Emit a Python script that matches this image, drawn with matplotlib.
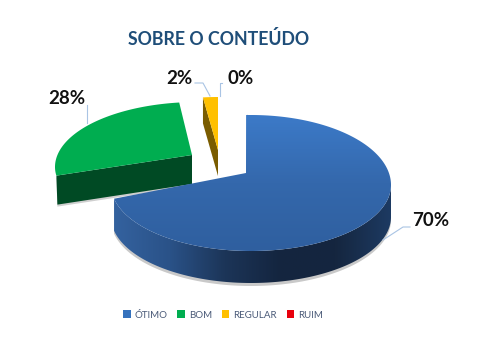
import numpy as np
import matplotlib
matplotlib.use("Agg")
import matplotlib.pyplot as plt
from matplotlib.colors import LinearSegmentedColormap
from matplotlib.patches import Patch, Polygon

# data
categories = ["ÓTIMO", "BOM", "REGULAR", "RUIM"]
values = [70, 28, 2, 0]
labels = ["70%", "28%", "2%", "0%"]
colors = ["#3572bd", "#00ad50", "#ffc000", "#e8000d"]

plt.rcParams["font.family"] = ["Lato", "DejaVu Sans"]

# fake 3d pie, everything here is in pixels of the picture
apex = [(246, 173), (192, 155), (218, 150)]
center = [(251, 185), (197, 167), (218, 150)]
rx = [140, 142, 120]
ry_back = [70, 65, 53]
ry_front = [66, 62, 53]
depth = [32, 29, 26]
# perspective pushes the cut lines away a little, degrees at start and end of slice
nudge = [(-2, 6), (10, 0), (0, 0)]


def rim(i, t0, t1, n=300):
    # points of the slice edge, t is the angle clockwise from 12 o'clock
    t = np.radians(np.linspace(t0, t1, n))
    s, c = np.sin(t), np.cos(t)
    k = np.where(c >= 0, ry_back[i], ry_front[i])
    return center[i][0] + rx[i] * s, center[i][1] - k * c


def gradient(ax, poly, cmap, horizontal, zorder):
    xs, ys = poly[:, 0], poly[:, 1]
    g = np.linspace(0, 1, 256)
    g = g[None, :] if horizontal else g[:, None]
    im = ax.imshow(g, cmap=cmap, aspect="auto", zorder=zorder,
                   extent=(xs.min(), xs.max(), ys.max(), ys.min()))
    im.set_clip_path(Polygon(poly, transform=ax.transData))


fig = plt.figure(figsize=(4.79, 3.53), dpi=100)
ax = fig.add_axes([0, 0, 1, 1])

edges = np.cumsum([0] + values) * 3.6

side_blue = LinearSegmentedColormap.from_list(
    "side", ["#34629f", "#2a5288", "#1c3558", "#14253f", "#15263f", "#1d3a62"])
top_blue = LinearSegmentedColormap.from_list("top", ["#3c7ac8", "#3468ac", "#2f5f9f"])

# blue slice
t0, t1 = edges[0] + nudge[0][0], edges[1] + nudge[0][1]
x, y = rim(0, t0, t1)
xs, ys = rim(0, 90, t1)
wall = np.column_stack([np.r_[xs, xs[::-1]], np.r_[ys, ys[::-1] + depth[0]]])
shadow = np.column_stack([np.r_[xs, xs[::-1]], np.r_[ys + 2, ys[::-1] + depth[0] + 3]])
ax.add_patch(Polygon(shadow, fc="#c9c9c9", ec="none", zorder=1))
gradient(ax, wall, side_blue, True, 2)
top = np.column_stack([np.r_[apex[0][0], x], np.r_[apex[0][1], y]])
gradient(ax, top, top_blue, False, 4)
ax.plot([apex[0][0] + 1] * 2, [apex[0][1], y[0]], color="#1d3a62", lw=0.8, zorder=3)

# green slice
x, y = rim(1, edges[1] + nudge[1][0], edges[2] + nudge[1][1])
face = [(apex[1][0], apex[1][1]), (x[0], y[0]), (x[0] + 1, y[0] + depth[1]),
        (apex[1][0], apex[1][1] + depth[1])]
ax.add_patch(Polygon(np.array(face) + (0, 2), fc="#cfcfcf", ec="none", zorder=1))
ax.add_patch(Polygon(face, fc="#004a24", ec="none", zorder=2))
ax.add_patch(Polygon(np.column_stack([np.r_[apex[1][0], x], np.r_[apex[1][1], y]]),
                     fc=colors[1], ec="none", zorder=3))

# yellow slice
x, y = rim(2, edges[2], edges[3])
face = [(x[0], y[0]), (x[0], y[0] + depth[2]), (apex[2][0], apex[2][1] + depth[2]),
        (apex[2][0], apex[2][1])]
ax.add_patch(Polygon(face, fc="#7a5c00", ec="none", zorder=2))
ax.add_patch(Polygon(np.column_stack([np.r_[apex[2][0], x], np.r_[apex[2][1], y]]),
                     fc=colors[2], ec="none", zorder=3))

# leader lines and labels
leaders = [[(410, 227), (403, 227), (383, 240)],
           [(87, 105), (87, 123)],
           [(195, 83), (203, 83), (210, 96)],
           [(222, 83), (220, 83), (220, 96)]]
label_pos = [(431, 221), (67, 99), (179, 78), (241, 78)]
for i, txt in enumerate(labels):
    lx, ly = zip(*leaders[i])
    ax.plot(lx, ly, color="#a9c4e4", lw=0.8, zorder=5)
    ax.text(label_pos[i][0], label_pos[i][1], txt, fontsize=13.5, fontweight="bold",
            color="#111111", ha="center", va="center", zorder=6)

ax.text(219, 39, "SOBRE O CONTEÚDO", fontsize=12.8, fontweight="bold",
        color="#1f4e79", ha="center", va="center")

handles = [Patch(fc=c, ec="none") for c in colors]
ax.legend(handles, categories, loc="center", bbox_to_anchor=(223 / 479, 1 - 315 / 353),
          ncol=4, frameon=False, fontsize=7, labelcolor="#4a5a78", handlelength=0.8,
          handleheight=0.8, handletextpad=0.4, columnspacing=1.0)

ax.set_xlim(0, 479)
ax.set_ylim(353, 0)
ax.axis("off")

fig.savefig("out.png", dpi=100, facecolor="white")
